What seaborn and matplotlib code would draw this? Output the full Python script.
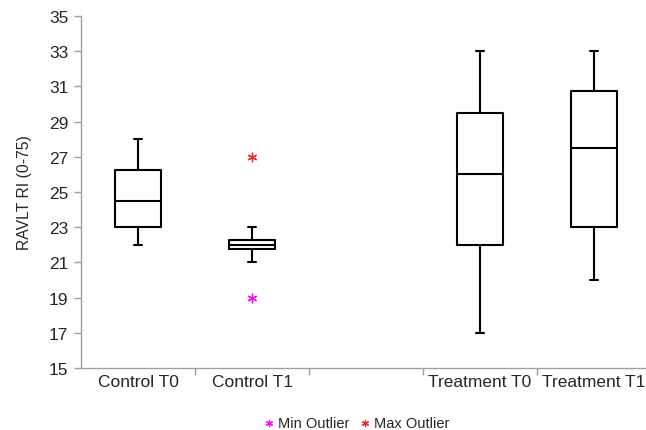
import numpy as np
import pandas as pd
import seaborn as sns
from matplotlib import pyplot as plt

# groups (empty slot between control and treatment)
groups = ["Control T0", "Control T1", "", "Treatment T0", "Treatment T1"]
box_groups = ["Control T0", "Control T1", "Treatment T0", "Treatment T1"]
whisker_lo = [22, 21, 17, 20]
q1 = [23, 21.75, 22, 23]
median = [24.5, 22, 26, 27.5]
q3 = [26.25, 22.25, 29.5, 30.75]
whisker_hi = [28, 23, 33, 33]

# outliers (only Control T1 has them)
min_outlier_group = ["Control T1"]
min_outlier_value = [19]
max_outlier_group = ["Control T1"]
max_outlier_value = [27]

sns.set_style("white")
plt.rcParams['font.family'] = ['Liberation Sans', 'DejaVu Sans']

fig = plt.figure(figsize=(6.46, 4.31), dpi=100)
ax = fig.add_axes([81/646, 62/431, 570/646, 352/431])

pos = {g: i for i, g in enumerate(groups)}
stats = []
for i, g in enumerate(box_groups):
    stats.append(dict(label=g, whislo=whisker_lo[i], q1=q1[i], med=median[i],
                      q3=q3[i], whishi=whisker_hi[i], fliers=[]))

lw = 1.5
ax.bxp(stats, positions=[pos[g] for g in box_groups], widths=0.4,
       showfliers=False,
       boxprops=dict(color="black", linewidth=lw),
       medianprops=dict(color="black", linewidth=lw),
       whiskerprops=dict(color="black", linewidth=lw),
       capprops=dict(color="black", linewidth=lw),
       capwidths=0.07)

mins = pd.DataFrame({"x": [pos[g] for g in min_outlier_group], "y": min_outlier_value})
maxs = pd.DataFrame({"x": [pos[g] for g in max_outlier_group], "y": max_outlier_value})
sns.scatterplot(data=mins, x="x", y="y", ax=ax, marker=(6, 2, 0), s=40,
                color="#ff00ff", linewidth=0.9, label="Min Outlier", legend=False)
sns.scatterplot(data=maxs, x="x", y="y", ax=ax, marker=(6, 2, 0), s=40,
                color="#e8262a", linewidth=0.9, label="Max Outlier", legend=False)

ax.set_xlim(-0.5, 4.5)
ax.set_ylim(15, 35)
ax.set_yticks(np.arange(15, 36, 2))
ax.set_xticks(range(len(groups)))
ax.set_xticklabels(groups, fontsize=12.5)
ax.set_xticks(np.arange(0.5, 4.0, 1.0), minor=True)
ax.tick_params(axis="x", which="major", length=0, pad=4, bottom=False)
ax.tick_params(axis="x", which="minor", length=5, color="#a0a0a0", width=1,
               direction="out", bottom=True)
ax.tick_params(axis="y", length=5, color="#a0a0a0", width=1, direction="out",
               labelsize=12.5, pad=4, left=True)
ax.set_xlabel("")
ax.set_ylabel("RAVLT RI (0-75)", fontsize=11.3, labelpad=12)

for s in ["top", "right"]:
    ax.spines[s].set_visible(False)
for s in ["left", "bottom"]:
    ax.spines[s].set_color("#a0a0a0")
    ax.spines[s].set_linewidth(1)

handles, labels = ax.get_legend_handles_labels()
fig.legend(handles, labels, loc="lower center", bbox_to_anchor=(0.55, -0.03),
           ncol=2, frameon=False, fontsize=10.5, handletextpad=0.1,
           columnspacing=0.6, handlelength=1.0, markerscale=0.7)

plt.savefig("out.png", dpi=100)
